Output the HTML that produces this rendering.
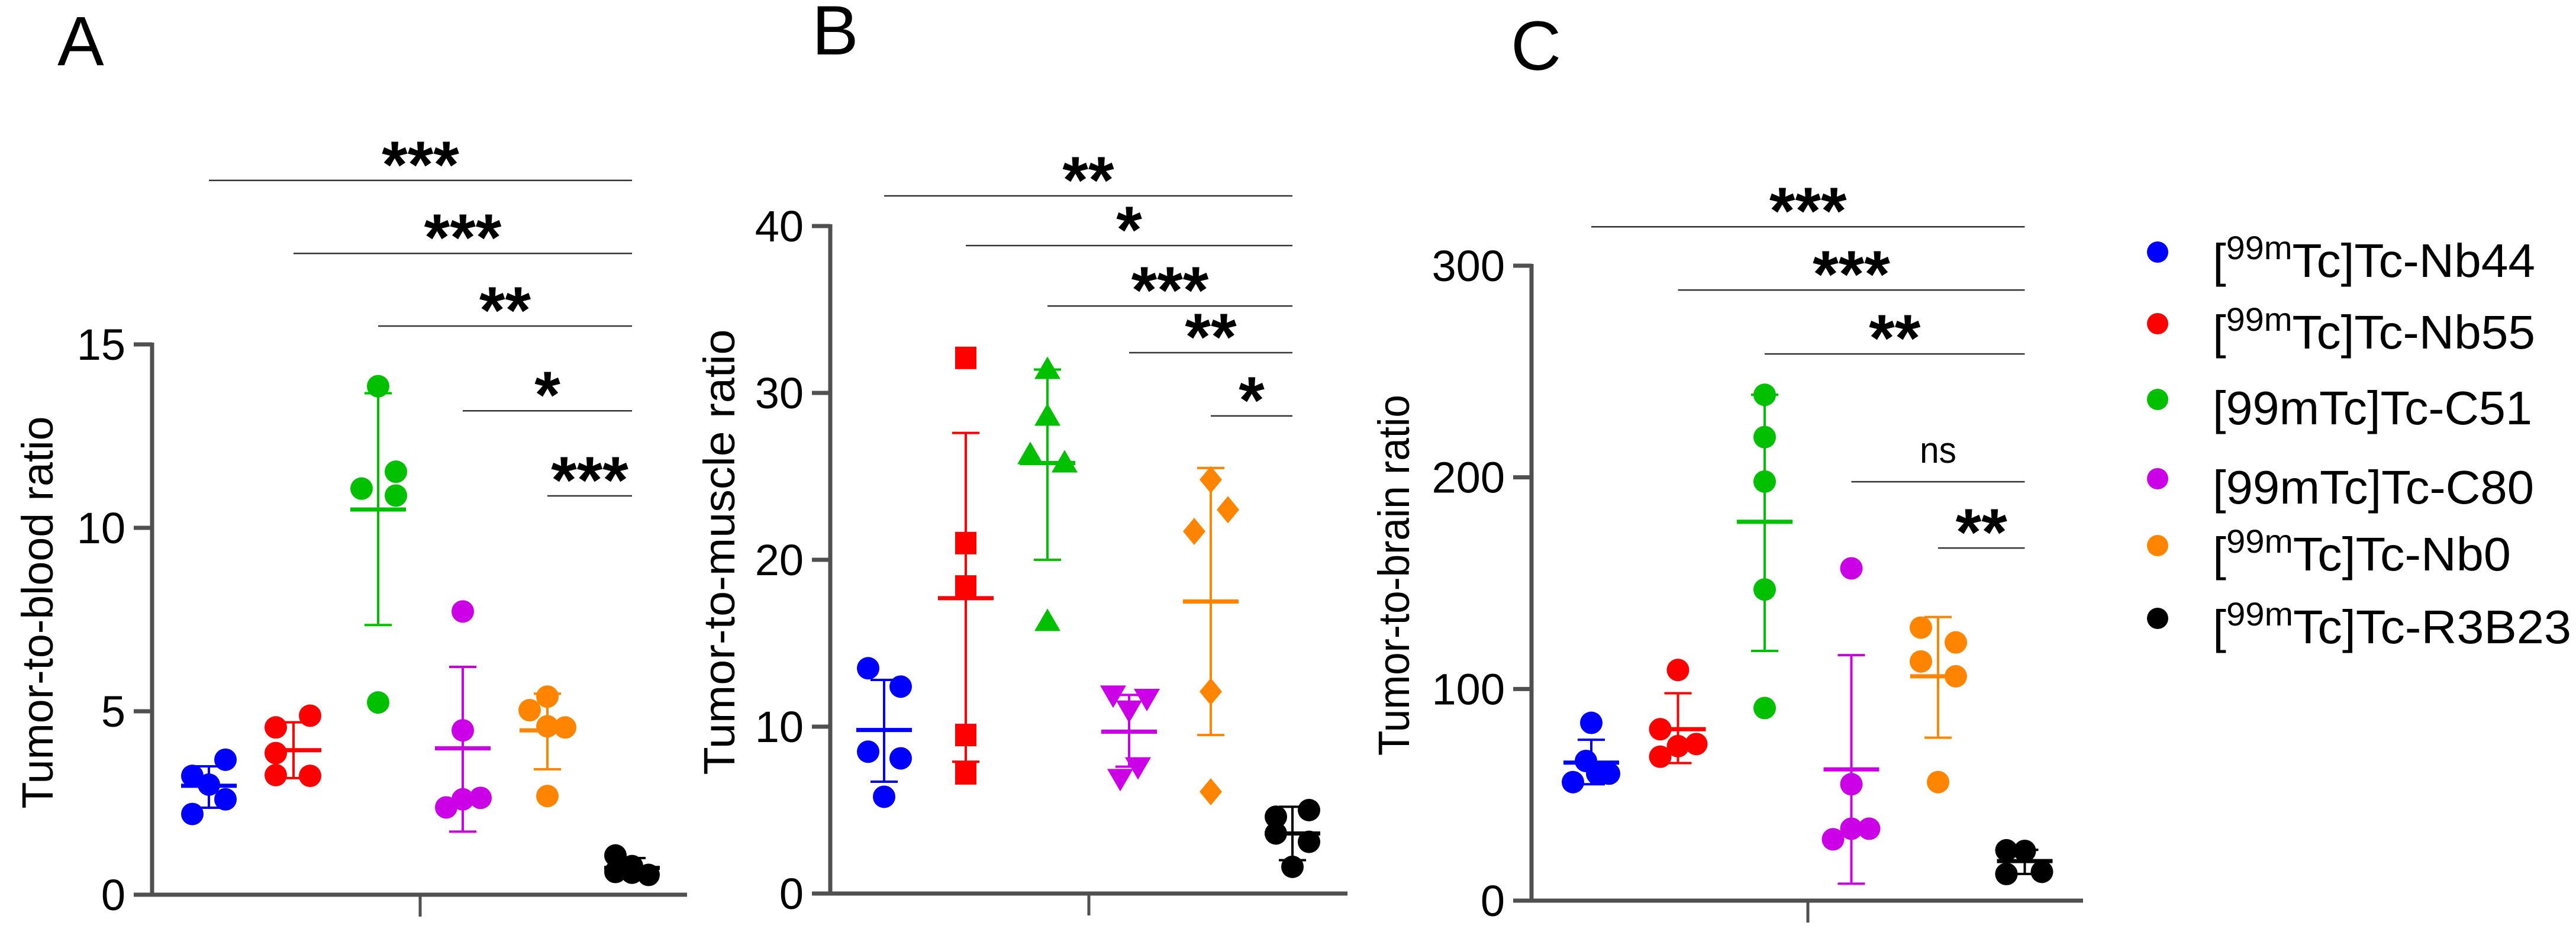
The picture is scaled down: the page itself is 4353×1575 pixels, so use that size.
<!DOCTYPE html>
<html><head><meta charset="utf-8"><style>
html,body{margin:0;padding:0;background:#fff;}
svg{display:block;font-family:"Liberation Sans",Arial,sans-serif;}
</style></head><body>
<svg id="fig" width="4353" height="1575" viewBox="0 0 4353 1575" xmlns="http://www.w3.org/2000/svg"></svg>
<script>
// ---- data ----
const groups = ["[99mTc]Tc-Nb44","[99mTc]Tc-Nb55","[99mTc]Tc-C51","[99mTc]Tc-C80","[99mTc]Tc-Nb0","[99mTc]Tc-R3B23"];
const colors = ["#0000ff","#ff0000","#00c000","#cc00e6","#ff8500","#000000"];

const aValues = [[3.68,3.24,3.0,2.6,2.2],[4.88,4.56,3.86,3.26,3.24],[13.86,11.53,11.07,10.88,5.24],[7.72,4.48,2.64,2.6,2.38],[5.4,5.03,4.56,4.59,2.69],[1.07,0.78,0.62,0.54,0.6]];
const aMeans = [2.97,3.94,10.5,3.99,4.48,0.73];
const aSdHi = [3.5,4.7,13.67,6.21,5.48,1.0];
const aSdLo = [2.37,3.18,7.35,1.72,3.42,0.45];
const aTicks = [0,5,10,15];
const aSigFrom = [0,1,2,3,4];
const aSigLevel = [19.47,17.48,15.5,13.19,10.87];
const aSigLabel = ["***","***","**","*","***"];

const bValues = [[13.5,12.4,8.5,8.1,5.8],[32.1,21.0,18.4,9.5,7.2],[31.4,28.6,26.3,25.8,16.3],[11.9,11.7,11.0,7.6,6.9],[24.8,23.0,21.7,12.1,6.1],[5.0,4.6,3.1,1.6,3.6]];
const bMeans = [9.8,17.7,25.8,9.7,17.5,3.6];
const bSdHi = [12.8,27.6,31.4,11.9,25.5,5.2];
const bSdLo = [6.7,7.9,20.0,7.6,9.5,2.0];
const bTicks = [0,10,20,30,40];
const bSigFrom = [0,1,2,3,4];
const bSigLevel = [41.81,38.83,35.21,32.41,28.62];
const bSigLabel = ["**","*","***","**","*"];

const cValues = [[84,66,60,60,56],[109,81,74,73,68],[239,219,198,147,91],[157,55,34,34,29],[129,122,113,106,56],[23.8,23.5,12.6,13.6,12.6]];
const cMeans = [65.2,81,179,62,106,18.7];
const cSdHi = [76,98,239,116,134,24];
const cSdLo = [55,65,118,8,77,12.6];
const cTicks = [0,100,200,300];
const cSigFrom = [0,1,2,3,4];
const cSigLevel = [318.4,288.5,258.3,197.9,166.6];
const cSigLabel = ["***","***","**","ns","**"];

// ---- layout (styles / positions, not data) ----
const NS="http://www.w3.org/2000/svg";
const svg=document.getElementById('fig');
function mk(tag,attrs,parent){const e=document.createElementNS(NS,tag);for(const k in attrs)e.setAttribute(k,attrs[k]);(parent||svg).appendChild(e);return e;}

const panels=[
 {id:"a",letter:"A",lx:97,ly:110,ax:257,x0:353,dx:143,xEnd:1161,y0:1512,yTop:582,vmax:15,center:710,title:"Tumor-to-blood ratio",tx:63,ty:1035,tlen:663,
  vals:aValues,means:aMeans,hi:aSdHi,lo:aSdLo,ticks:aTicks,sf:aSigFrom,sl:aSigLevel,slab:aSigLabel,
  shapes:["c","c","c","c","c","c"],
  jit:[[28,-28,0,28,-28],[28,-30,-30,-30,28],[0,30,-28,30,0],[0,0,30,0,-28],[0,-30,30,0,0],[-28,0,-28,28,0]]},
 {id:"b",letter:"B",lx:1372,ly:92,ax:1403,x0:1494,dx:138,xEnd:2277,y0:1510,yTop:382,vmax:40,center:1840,title:"Tumor-to-muscle ratio",tx:1215,ty:933,tlen:753,
  vals:bValues,means:bMeans,hi:bSdHi,lo:bSdLo,ticks:bTicks,sf:bSigFrom,sl:bSigLevel,slab:bSigLabel,
  shapes:["c","s","t","v","d","c"],
  jit:[[-27,28,-27,28,0],[0,0,0,0,0],[0,0,-29,29,0],[-27,30,0,15,-15],[0,29,-28,0,0],[28,-28,28,0,-28]]},
 {id:"c",letter:"C",lx:2553,ly:118,ax:2588,x0:2689,dx:146.5,xEnd:3520,y0:1522,yTop:449,vmax:300,center:3055,title:"Tumor-to-brain ratio",tx:2355,ty:972,tlen:610,
  vals:cValues,means:cMeans,hi:cSdHi,lo:cSdLo,ticks:cTicks,sf:cSigFrom,sl:cSigLevel,slab:cSigLabel,
  shapes:["c","c","c","c","c","c"],
  jit:[[0,-9,30,10,-31],[0,-30,31,0,-30],[0,0,0,0,0],[0,0,30,0,-31],[-29,30,-29,30,0],[-31,0,-31,29,-31]]}
];

panels.forEach(p=>{
  const g=mk('g',{});
  
  
  const yS=v=>p.y0-(v/p.vmax)*(p.y0-p.yTop);
  const xS=i=>p.x0+i*p.dx;
  // letter
  const L=mk('text',{x:p.lx,y:p.ly,'font-size':118,fill:'#000'},g);L.textContent=p.letter;
  
  
  // axes
  const ya=mk('line',{x1:p.ax,y1:p.yTop-3,x2:p.ax,y2:p.y0+3,stroke:'#505050','stroke-width':7},g);
  
  
  const xa=mk('line',{x1:p.ax-31,y1:p.y0,x2:p.xEnd,y2:p.y0,stroke:'#505050','stroke-width':7},g);
  
  
  mk('line',{x1:p.center,y1:p.y0,x2:p.center,y2:p.y0+37,stroke:'#505050','stroke-width':5},g);
  p.ticks.forEach(t=>{
    const y=yS(t);
    mk('line',{x1:p.ax-31,y1:y,x2:p.ax,y2:y,stroke:'#505050','stroke-width':7},g);
    const tl=mk('text',{x:p.ax-45,y:y+26,'font-size':74,'text-anchor':'end',fill:'#000'},g);
    tl.textContent=t;
    
    
  });
  const tt=mk('text',{x:0,y:0,'font-size':74,'text-anchor':'middle',fill:'#000',transform:`translate(${p.tx+26},${p.ty}) rotate(-90)`,textLength:p.tlen,lengthAdjust:'spacingAndGlyphs'},g);
  tt.textContent=p.title;
  
  
  // groups
  p.vals.forEach((arr,i)=>{
    const cx=xS(i),col=colors[i];
    const gg=mk('g',{},g);
    
    
    arr.forEach((v,j)=>{
      const x=cx+p.jit[i][j],y=yS(v),sh=p.shapes[i];let m;
      if(sh==='c') m=mk('circle',{cx:x,cy:y,r:19,fill:col},gg);
      else if(sh==='s') m=mk('rect',{x:x-18,y:y-19,width:36,height:38,fill:col},gg);
      else if(sh==='t') m=mk('polygon',{points:`${x},${y-22} ${x+22},${y+16} ${x-22},${y+16}`,fill:col},gg);
      else if(sh==='v') m=mk('polygon',{points:`${x},${y+22} ${x+22},${y-16} ${x-22},${y-16}`,fill:col},gg);
      else m=mk('polygon',{points:`${x},${y-23} ${x+19},${y} ${x},${y+23} ${x-19},${y}`,fill:col},gg);
      
      
    });
    const hi=yS(p.hi[i]),lo=yS(p.lo[i]),mn=yS(p.means[i]);
    mk('line',{x1:cx,y1:hi,x2:cx,y2:lo,stroke:col,'stroke-width':4},gg);
    mk('line',{x1:cx-23,y1:hi,x2:cx+23,y2:hi,stroke:col,'stroke-width':4},gg);
    mk('line',{x1:cx-23,y1:lo,x2:cx+23,y2:lo,stroke:col,'stroke-width':4},gg);
    const ml=mk('line',{x1:cx-47,y1:mn,x2:cx+47,y2:mn,stroke:col,'stroke-width':7},gg);
    
    
  });
  // significance brackets
  p.sf.forEach((f,k)=>{
    const y=yS(p.sl[k]),x1=xS(f),x2=xS(5);
    const ln=mk('line',{x1:x1,y1:y,x2:x2,y2:y,stroke:'#333','stroke-width':2.5},g);
    
    
    const lab=p.slab[k],mid=(x1+x2)/2;let t;
    if(lab==='ns') t=mk('text',{x:mid,y:y-32,'font-size':62,'text-anchor':'middle',fill:'#000',textLength:62,lengthAdjust:'spacingAndGlyphs'},g);
    else t=mk('text',{x:mid,y:y-52+64,'font-size':112,'font-weight':'bold','text-anchor':'middle',fill:'#000'},g);
    t.textContent=lab;
    
    
  });
});

// legend
const legY=[426,547,675,809,922,1045];
const legLen=[545,545,540,543,504,606];
const lg=mk('g',{});


groups.forEach((name,i)=>{
  const e=mk('g',{},lg);
  
  
  mk('circle',{cx:3646,cy:legY[i],r:18,fill:colors[i]},e);
  const t=mk('text',{x:3739,y:legY[i]+42,'font-size':80,fill:'#000',textLength:legLen[i],lengthAdjust:'spacingAndGlyphs'},e);
  if(i===2||i===3){t.textContent=name;}
  else{
    const a=mk('tspan',{},t);a.textContent='[';
    const s=mk('tspan',{'font-size':56,dy:-30},t);s.textContent='99m';
    const r=mk('tspan',{dy:30},t);r.textContent=name.slice(4);
  }
});
</script>
</body></html>
